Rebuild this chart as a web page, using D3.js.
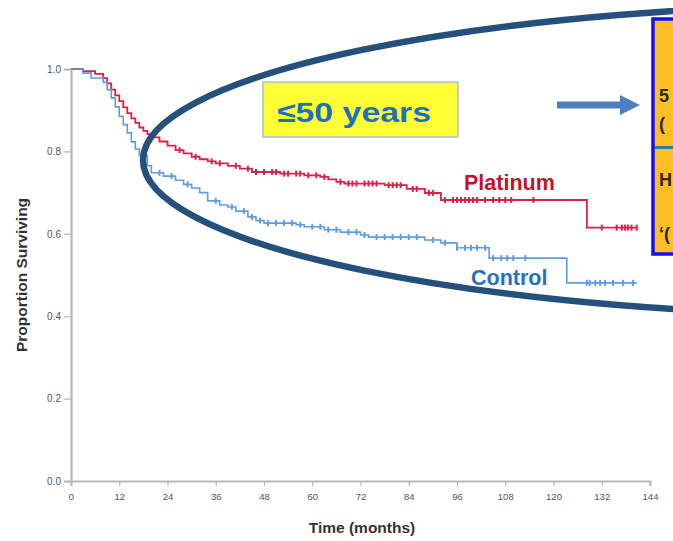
<!DOCTYPE html>
<html><head><meta charset="utf-8">
<script src="https://cdn.jsdelivr.net/npm/d3@7"></script>
<style>
body{margin:0;background:#fff;}
svg{display:block;font-family:"Liberation Sans",Arial,sans-serif;}
</style></head>
<body><svg id="chart" width="673" height="541"></svg>
<script>
// ---- data ----
const xTicks = [0,12,24,36,48,60,72,84,96,108,120,132,144];
const yTicks = [0.0,0.2,0.4,0.6,0.8,1.0];
const platinumTimes = [0,3,6,8,9,10,11,12,13,14,15,16,17,18,19,20,22,24,26,28,30,32,34,36,39,42,45,52,58,62,64,66,68,78,83.5,88,92,128.3,140.7];
const platinumSurv  = [1.0,0.995,0.988,0.978,0.965,0.95,0.936,0.922,0.907,0.893,0.88,0.869,0.858,0.85,0.842,0.834,0.824,0.814,0.803,0.795,0.787,0.781,0.776,0.771,0.765,0.758,0.75,0.746,0.742,0.738,0.732,0.726,0.722,0.718,0.709,0.699,0.682,0.615,0.615];
const controlTimes = [0,3,5,8,9,10,11,12,13,14,15,16,17,19,20,23,26,28,30,32,34,37,39,41,44,46,48,56,58,63,67,72,74,88,92,96,104,123.3,140.7];
const controlSurv  = [1.0,0.99,0.978,0.968,0.95,0.93,0.908,0.885,0.865,0.845,0.823,0.806,0.79,0.765,0.748,0.74,0.73,0.72,0.711,0.70,0.68,0.67,0.665,0.655,0.641,0.632,0.626,0.622,0.617,0.61,0.604,0.597,0.592,0.585,0.578,0.566,0.541,0.481,0.481];
const platinumCensor = [27,31,35,37,41,44,46,48,50,51,53,54,56,57,59,61,63,67,69,70,71,73,74,75,76,79,80,81,82,85,86,89,90,93,95,96,97,98,99,100,101,103,105,106.5,108,109.5,115,132,135.7,137,137.8,138.5,139.4,140.7];
const controlCensor = [22,25,29,36,40,43,45,47,49,51,53,55,57,60,62,64,66,69,71,73,76,78,80,82,84,86,90,93,96,98,99.5,101,103,105,107,108.5,110,113,128.3,129,130.4,131.6,132.8,134.8,137.3,139.8];
const seriesNames = ["Platinum","Control"];
const xTitle = "Time (months)";
const yTitle = "Proportion Surviving";
const boxLabel = "≤50 years";
const sideLines = ["5","(","H","‘("];

// ---- chart ----
const svg = d3.select("#chart");
const x = d3.scaleLinear().domain([0,144]).range([71,650]);
const y = d3.scaleLinear().domain([0,1]).range([481,69]);

const axisColor = "#b8b8b8";
const gx = svg.append("g").attr("transform","translate(0,481)")
  .call(d3.axisBottom(x).tickValues(xTicks).tickSize(5).tickPadding(7).tickFormat(d3.format("d")));
const gy = svg.append("g").attr("transform","translate(71,0)")
  .call(d3.axisLeft(y).tickValues(yTicks).tickSize(7).tickPadding(3).tickFormat(d3.format(".1f")));
[gx,gy].forEach(g=>{
  g.select(".domain").attr("stroke",axisColor).attr("stroke-width",2.2);
  g.selectAll(".tick line").attr("stroke",axisColor).attr("stroke-width",1.2);
  g.selectAll(".tick text").attr("fill","#555").attr("font-size",9.5).attr("font-family","Liberation Sans, Arial, sans-serif");
});
gy.selectAll(".tick text").attr("font-size",10);

svg.append("text").attr("x",362).attr("y",533).attr("text-anchor","middle")
  .attr("font-size",15.5).attr("font-weight","bold").attr("fill","#333").text(xTitle);
svg.append("text").attr("transform","translate(27,275) rotate(-90)").attr("text-anchor","middle")
  .attr("font-size",15.5).attr("font-weight","bold").attr("fill","#333").text(yTitle);

function stepVal(times, surv, t){
  let v = surv[0];
  for(let i=0;i<times.length;i++){ if(times[i]<=t) v = surv[i]; }
  return v;
}
const line = d3.line().x(d=>x(d[0])).y(d=>y(d[1])).curve(d3.curveStepAfter);
const groups = [
  {times:platinumTimes, surv:platinumSurv, cens:platinumCensor, color:"#dc2148", w:1.8},
  {times:controlTimes, surv:controlSurv, cens:controlCensor, color:"#5d9ce6", w:1.6}
];
groups.forEach(g=>{
  const pts = g.times.map((t,i)=>[t,g.surv[i]]);
  svg.append("path").attr("d",line(pts)).attr("fill","none")
    .attr("stroke",g.color).attr("stroke-width",g.w);
  svg.append("g").selectAll("line").data(g.cens).join("line")
    .attr("x1",d=>x(d)).attr("x2",d=>x(d))
    .attr("y1",d=>y(stepVal(g.times,g.surv,d))-3).attr("y2",d=>y(stepVal(g.times,g.surv,d))+3)
    .attr("stroke",g.color).attr("stroke-width",2);
});

svg.append("text").attr("x",464).attr("y",190).attr("font-size",21.5).attr("font-weight","bold")
  .attr("fill","#c3142a").text(seriesNames[0]);
svg.append("text").attr("x",471).attr("y",285).attr("font-size",21.5).attr("font-weight","bold")
  .attr("fill","#1f72c4").text(seriesNames[1]);

// ellipse annotation
svg.append("ellipse").attr("cx",895).attr("cy",160).attr("rx",752).attr("ry",156)
  .attr("fill","none").attr("stroke","#26507c").attr("stroke-width",6.5);

// yellow box
svg.append("rect").attr("x",263).attr("y",82).attr("width",195).attr("height",55)
  .attr("fill","#ffff33").attr("stroke","#a9bdd8").attr("stroke-width",1.5);
svg.append("text").attr("x",277).attr("y",122).attr("font-size",28).attr("font-weight","bold")
  .attr("fill","#1f6fc0").attr("textLength",154).attr("lengthAdjust","spacingAndGlyphs").text(boxLabel);

// arrow
svg.append("path").attr("d","M557,101.5 L620,101.5 L620,95 L640,105 L620,115 L620,108.5 L557,108.5 Z")
  .attr("fill","#4a7fc0");

// orange box
svg.append("rect").attr("x",653).attr("y",19).attr("width",40).attr("height",235)
  .attr("fill","#ffbe25").attr("stroke","#1010f0").attr("stroke-width",3.5);
svg.append("line").attr("x1",655).attr("x2",673).attr("y1",147.5).attr("y2",147.5)
  .attr("stroke","#2b78b8").attr("stroke-width",3);
const sideY = [102,130,186,240];
sideLines.forEach((t,i)=>{
  svg.append("text").attr("x",659).attr("y",sideY[i]).attr("font-size",18)
    .attr("font-weight","bold").attr("fill","#2a2a2a").text(t);
});
</script></body></html>
